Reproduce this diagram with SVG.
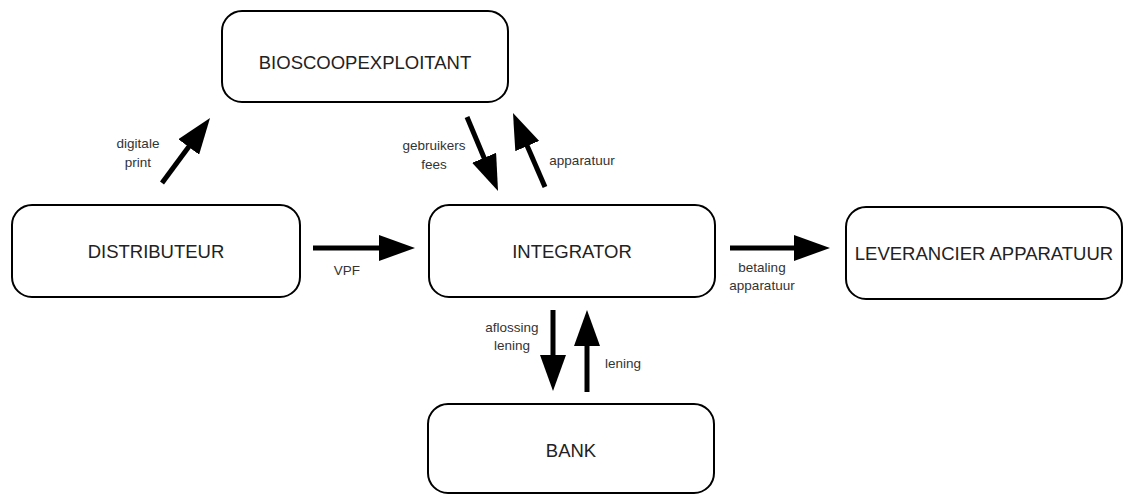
<svg xmlns="http://www.w3.org/2000/svg" width="1125" height="495" viewBox="0 0 1125 495">
<style>
.node rect{fill:#fff;stroke:#000;stroke-width:2}
.nt{font-family:"Liberation Sans",Arial,sans-serif;font-size:18.5px;fill:#222;text-anchor:middle}
.lt{font-family:"Liberation Sans",Arial,sans-serif;font-size:13.5px;fill:#333;text-anchor:middle}
.conn line{stroke:#000;stroke-width:5}
</style>
<defs>
<marker id="ah" markerUnits="userSpaceOnUse" markerWidth="36" markerHeight="26" refX="8" refY="13" orient="auto">
<path d="M0,0 L36,13 L0,26 Z" fill="#000"/>
</marker>
</defs>
<rect width="1125" height="495" fill="#fff"/>
<g id="bioscoopexploitant" class="node"><rect x="222" y="11" width="286" height="91" rx="20"/><text class="nt" x="365" y="69">BIOSCOOPEXPLOITANT</text></g>
<g id="distributeur" class="node"><rect x="12" y="205" width="288" height="92" rx="20"/><text class="nt" x="156" y="258">DISTRIBUTEUR</text></g>
<g id="integrator" class="node"><rect x="429" y="205" width="286" height="92" rx="20"/><text class="nt" x="572" y="258">INTEGRATOR</text></g>
<g id="leverancier" class="node"><rect x="846" y="207" width="276" height="92" rx="20"/><text class="nt" x="984" y="260">LEVERANCIER APPARATUUR</text></g>
<g id="bank" class="node"><rect x="428" y="404" width="286" height="89" rx="20"/><text class="nt" x="571" y="457">BANK</text></g>
<g id="connectors" class="conn">
<line x1="162" y1="183" x2="193.4" y2="140.5" marker-end="url(#ah)"/>
<line x1="313" y1="248" x2="387" y2="248" marker-end="url(#ah)"/>
<line x1="730" y1="248" x2="802" y2="248" marker-end="url(#ah)"/>
<line x1="467" y1="117" x2="487.2" y2="165.2" marker-end="url(#ah)"/>
<line x1="545" y1="187" x2="524.1" y2="138.7" marker-end="url(#ah)"/>
<line x1="553" y1="310" x2="553" y2="363" marker-end="url(#ah)"/>
<line x1="587" y1="392" x2="587" y2="338" marker-end="url(#ah)"/>
</g>
<g id="labels">
<text class="lt" x="138" y="148">digitale</text>
<text class="lt" x="138" y="167">print</text>
<text class="lt" x="347" y="275">VPF</text>
<text class="lt" x="762" y="272">betaling</text>
<text class="lt" x="762" y="290">apparatuur</text>
<text class="lt" x="434" y="150">gebruikers</text>
<text class="lt" x="434" y="169">fees</text>
<text class="lt" x="582" y="165">apparatuur</text>
<text class="lt" x="512" y="332">aflossing</text>
<text class="lt" x="512" y="350">lening</text>
<text class="lt" x="623" y="368">lening</text>
</g>
</svg>
